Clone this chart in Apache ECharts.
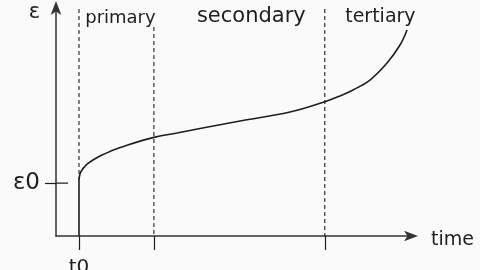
<!DOCTYPE html>
<html>
<head>
<meta charset="utf-8">
<script src="https://cdn.jsdelivr.net/npm/echarts@6/dist/echarts.min.js"></script>
<style>
html,body{margin:0;padding:0;background:#fafafa;}
#chart{width:480px;height:270px;}
</style>
</head>
<body>
<div id="chart"></div>
<script>
// Creep curve (arbitrary units: time 0..10, strain 0..10)
const t0 = 0.646, t1 = 2.75, t2 = 7.55;
const eps0 = 2.29;
const riseTime   = [0.646, 0.646];
const riseStrain = [0.00, 2.424];
const curveTime   = [0.646, 0.674, 0.730, 0.815, 0.899, 1.039, 1.264, 1.517, 1.994, 2.781, 3.399, 4.045, 5.169, 6.573, 7.556, 7.978, 8.343, 8.820, 9.298, 9.663, 9.860];
const curveStrain = [2.424, 2.684, 2.857, 3.017, 3.139, 3.290, 3.485, 3.662, 3.931, 4.281, 4.459, 4.654, 4.978, 5.368, 5.814, 6.061, 6.320, 6.753, 7.489, 8.268, 8.918];
const phaseNames = ['primary', 'secondary', 'tertiary'];
const phaseBounds = [t0, t1, t2, 10];
const dashTimes = [t0, t1, t2];
const dashTop = [9.83, 9.05, 9.83];
const dashBottom = [2.424, 0, 0];
const tickTimes = [t0, t1, t2];
const xLabelText = 't0';
const yLabelText = 'ε0';

const FONT = 'DejaVu Sans';
const INK = '#1e1e1e';
const phaseFont = [18, 21, 19];
const phaseOffset = [[4, 4], [12, 1], [12, 3]];

const chart = echarts.init(document.getElementById('chart'));
const rise = riseTime.map((t, i) => [t, riseStrain[i]]);
const curve = curveTime.map((t, i) => [t, curveStrain[i]]);

const series = [
  {
    type: 'line', data: rise, symbol: 'none',
    lineStyle: { color: INK, width: 1.6 }, z: 5
  },
  {
    type: 'line', data: curve, smooth: 0.4, symbol: 'none',
    lineStyle: { color: INK, width: 1.6 }, z: 5,
    markArea: {
      silent: true,
      itemStyle: { color: 'rgba(0,0,0,0)' },
      label: { position: 'insideTop', fontFamily: FONT, color: INK, distance: 0 },
      data: phaseNames.map((n, i) => [
        { xAxis: phaseBounds[i], name: n, label: { offset: phaseOffset[i], fontSize: phaseFont[i] } },
        { xAxis: phaseBounds[i + 1] }
      ])
    }
  },
  // inner part of the eps0 tick
  {
    type: 'line', data: [[0, eps0], [0.34, eps0]], symbol: 'none',
    lineStyle: { color: INK, width: 1.2 }
  }
];
dashTimes.forEach((t, i) => {
  series.push({
    type: 'line', data: [[t, dashTop[i]], [t, dashBottom[i]]], symbol: 'none',
    lineStyle: { color: INK, width: 1.1, type: [4, 3] }
  });
});

chart.setOption({
  backgroundColor: '#fafafa',
  animation: false,
  grid: { left: 56, right: 68, top: 5, bottom: 34, containLabel: false, outerBoundsMode: 'none' },
  xAxis: {
    type: 'value', min: 0, max: 10,
    name: 'time', nameLocation: 'end', nameGap: 19,
    nameTextStyle: { fontFamily: FONT, fontSize: 19, color: INK, verticalAlign: 'top', lineHeight: 8 },
    splitLine: { show: false },
    axisLine: { show: true, onZero: false, symbol: ['none', 'arrow'], symbolSize: [8, 14], symbolOffset: [0, 6],
      lineStyle: { color: '#333', width: 1.5 } },
    axisTick: { show: true, customValues: tickTimes, length: 14, lineStyle: { color: INK, width: 1.2 } },
    axisLabel: { customValues: [t0], formatter: () => xLabelText, fontFamily: FONT, fontSize: 20, color: INK, margin: 22 }
  },
  yAxis: {
    type: 'value', min: 0, max: 10,
    name: 'ε', nameLocation: 'end', nameGap: -18,
    nameTextStyle: { fontFamily: FONT, fontSize: 21, color: INK, align: 'right', padding: [0, 16, 0, 0] },
    splitLine: { show: false },
    axisLine: { show: true, onZero: false, symbol: ['none', 'arrow'], symbolSize: [8, 14], symbolOffset: [0, 4],
      lineStyle: { color: '#333', width: 1.5 } },
    axisTick: { show: true, customValues: [eps0], length: 11, lineStyle: { color: INK, width: 1.2 } },
    axisLabel: { customValues: [eps0], formatter: () => yLabelText, fontFamily: FONT, fontSize: 23, color: INK, margin: 16 }
  },
  series: series
});
</script>
</body>
</html>
